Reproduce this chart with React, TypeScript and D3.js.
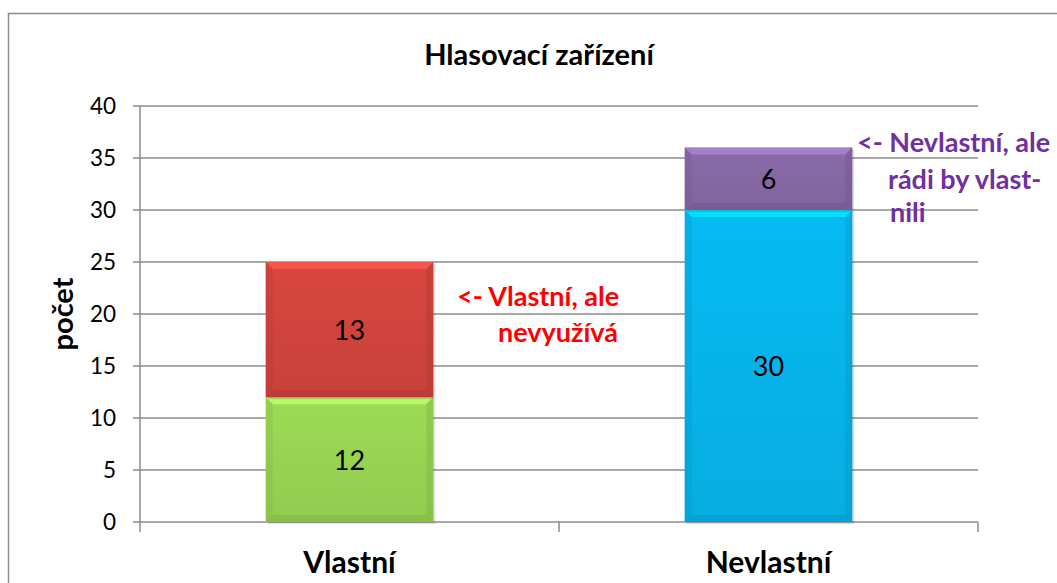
import React from "react";
import * as d3 from "d3";

const categories = ["Vlastní", "Nevlastní"];
const lowerValues = [12, 30];
const upperValues = [13, 6];
const lowerColors = ["#9DDB55", "#06BAF3"];
const upperColors = ["#D8463F", "#8A6BAA"];
const yTicks = [0, 5, 10, 15, 20, 25, 30, 35, 40];
const title = "Hlasovací zařízení";
const yLabel = "počet";
const noteRed = ["<- Vlastní, ale", "nevyužívá"];
const notePurple = ["<- Nevlastní, ale", "rádi by vlast-", "nili"];

const W = 1057, H = 583;
const M = { left: 140, right: 978, top: 106, bottom: 522 };
const FONT = "Lato, 'Open Sans', sans-serif";

function Bar({ x, y, w, h, color, id }: any) {
  const b = Math.min(7, h / 3);
  const c = d3.color(color)!;
  const light = c.brighter(0.6).formatHex();
  const dark = c.darker(0.7).formatHex();
  const mid = c.darker(0.2).formatHex();
  return (
    <g>
      <defs>
        <linearGradient id={id} x1="0" y1="0" x2="0" y2="1">
          <stop offset="0" stopColor={color} />
          <stop offset="1" stopColor={mid} />
        </linearGradient>
      </defs>
      <rect x={x + 2} y={y + 2} width={w} height={h} fill="#000" opacity={0.12} />
      <rect x={x} y={y} width={w} height={h} fill={`url(#${id})`} />
      <polygon points={`${x},${y} ${x + w},${y} ${x + w - b},${y + b} ${x + b},${y + b}`} fill={light} opacity={0.8} />
      <polygon points={`${x},${y} ${x + b},${y + b} ${x + b},${y + h - b} ${x},${y + h}`} fill={dark} opacity={0.25} />
      <polygon points={`${x + w},${y} ${x + w - b},${y + b} ${x + w - b},${y + h - b} ${x + w},${y + h}`} fill={dark} opacity={0.35} />
      <polygon points={`${x},${y + h} ${x + b},${y + h - b} ${x + w - b},${y + h - b} ${x + w},${y + h}`} fill={dark} opacity={0.4} />
    </g>
  );
}

export default function App() {
  const x = d3.scaleBand().domain(categories).range([M.left, M.right]).paddingInner(0.6).paddingOuter(0.3);
  const y = d3.scaleLinear().domain([0, 40]).range([M.bottom, M.top]);
  const bw = x.bandwidth();
  const bounds = [M.left, (M.left + M.right) / 2, M.right];
  return (
    <svg width={W} height={H} style={{ position: "absolute", left: 0, top: 0 }}>
      <rect x={8.5} y={13.5} width={W + 20} height={H + 20} fill="#fff" stroke="#8c8c8c" strokeWidth={1.5} />
      <text x={539} y={65} textAnchor="middle" fontFamily={FONT} fontWeight="bold" fontSize={29}>{title}</text>
      {yTicks.map((t) => (
        <g key={t}>
          <line x1={M.left - 7} x2={M.right} y1={y(t)} y2={y(t)} stroke="#8c8c8c" strokeWidth={1.5} />
          <text x={116} y={y(t) + 8} textAnchor="end" fontFamily={FONT} fontSize={22.5}>{t}</text>
        </g>
      ))}
      <line x1={M.left} x2={M.left} y1={M.top} y2={M.bottom} stroke="#8c8c8c" strokeWidth={1.5} />
      {bounds.map((b, i) => (
        <line key={i} x1={b} x2={b} y1={M.bottom} y2={M.bottom + 10} stroke="#8c8c8c" strokeWidth={1.5} />
      ))}
      <text transform={`translate(73,${(M.top + M.bottom) / 2}) rotate(-90)`} textAnchor="middle" fontFamily={FONT} fontWeight="bold" fontSize={29}>{yLabel}</text>
      {categories.map((c, i) => {
        const x0 = x(c)!;
        const y0 = y(lowerValues[i]);
        const y1 = y(lowerValues[i] + upperValues[i]);
        return (
          <g key={c}>
            <Bar id={`lo${i}`} x={x0} y={y0} w={bw} h={M.bottom - y0} color={lowerColors[i]} />
            <Bar id={`up${i}`} x={x0} y={y1} w={bw} h={y0 - y1} color={upperColors[i]} />
            <text x={x0 + bw / 2} y={(y0 + M.bottom) / 2 + 10} textAnchor="middle" fontFamily={FONT} fontSize={27}>{lowerValues[i]}</text>
            <text x={x0 + bw / 2} y={(y0 + y1) / 2 + 10} textAnchor="middle" fontFamily={FONT} fontSize={27}>{upperValues[i]}</text>
            <text x={x0 + bw / 2} y={573} textAnchor="middle" fontFamily={FONT} fontWeight="bold" fontSize={30}>{c}</text>
          </g>
        );
      })}
      <text fontFamily={FONT} fontWeight="bold" fontSize={27} fill="#FF0000">
        <tspan x={457} y={306}>{noteRed[0]}</tspan>
        <tspan x={498} y={342}>{noteRed[1]}</tspan>
      </text>
      <text fontFamily={FONT} fontWeight="bold" fontSize={27} fill="#7030A0">
        <tspan x={857} y={152}>{notePurple[0]}</tspan>
        <tspan x={888} y={189}>{notePurple[1]}</tspan>
        <tspan x={890} y={222}>{notePurple[2]}</tspan>
      </text>
    </svg>
  );
}
